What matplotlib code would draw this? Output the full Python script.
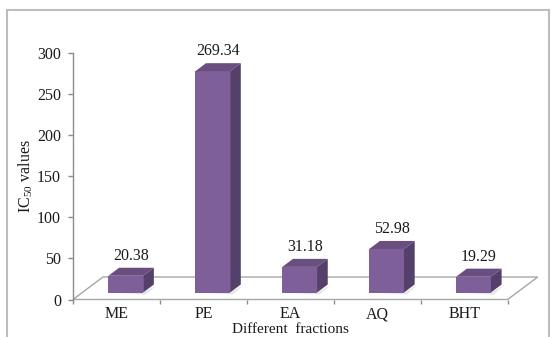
import matplotlib
matplotlib.use("Agg")
import matplotlib.pyplot as plt
from matplotlib.patches import Polygon, Rectangle
import numpy as np

categories = ["ME", "PE", "EA", "AQ", "BHT"]
values = [20.38, 269.34, 31.18, 52.98, 19.29]
value_labels = ["20.38", "269.34", "31.18", "52.98", "19.29"]
y_ticks = [0, 50, 100, 150, 200, 250, 300]
x_label = "Different  fractions"
y_label = r"IC$_{50}$ values"

plt.rcParams['font.family'] = ['Liberation Serif', 'DejaVu Serif']
plt.rcParams['mathtext.fontset'] = 'custom'
plt.rcParams['mathtext.rm'] = 'Liberation Serif'
plt.rcParams['mathtext.it'] = 'Liberation Serif:italic'

W, H = 555, 337
fig = plt.figure(figsize=(W / 100, H / 100), dpi=100)
ax_l, ax_r = 73, 507.7
ax_b, ax_t = 299.5, 53
ax = fig.add_axes([ax_l / W, (H - ax_b) / H, (ax_r - ax_l) / W, (ax_b - ax_t) / H])
ax.set_xlim(-0.5, len(categories) - 0.5)
ax.set_ylim(0, 300)
ax.patch.set_alpha(0)

px_x = (ax_r - ax_l) / len(categories)
px_y = (ax_b - ax_t) / 300
depth_dx = 30 / px_x
depth_dy = 22.5 / px_y

axis_grey = '#8C8C8C'
# floor
floor = Polygon([(-0.5, 0), (len(categories) - 0.5, 0),
                 (len(categories) - 0.5 + depth_dx, depth_dy), (-0.5 + depth_dx, depth_dy)],
                closed=True, fc='white', ec='#A6A6A6', lw=1.0, clip_on=False, zorder=1)
ax.add_patch(floor)

front_c, top_c, side_c = '#7F5F99', '#6A4E80', '#54406A'
half = 0.2
d1, d2 = 0.31, 0.667
ox1, oy1 = d1 * depth_dx, d1 * depth_dy
ox2, oy2 = d2 * depth_dx, d2 * depth_dy
for i, (v, lab) in enumerate(zip(values, value_labels)):
    # soft shadow
    sh = Polygon([(i - half + ox1, oy1), (i + half + ox1, oy1), (i + half + ox2 + 0.03, oy2 - 1),
                  (i + half + ox1 + 0.03, oy1 - 2.5)], closed=True, fc='#E6E6E6', ec='none',
                 clip_on=False, zorder=2)
    ax.add_patch(sh)
    front = Polygon([(i - half + ox1, oy1), (i + half + ox1, oy1), (i + half + ox1, oy1 + v),
                     (i - half + ox1, oy1 + v)], closed=True, fc=front_c, ec='none', clip_on=False, zorder=4)
    top = Polygon([(i - half + ox1, oy1 + v), (i + half + ox1, oy1 + v), (i + half + ox2, oy2 + v),
                   (i - half + ox2, oy2 + v)], closed=True, fc=top_c, ec='none', clip_on=False, zorder=4)
    side = Polygon([(i + half + ox1, oy1), (i + half + ox2, oy2), (i + half + ox2, oy2 + v),
                    (i + half + ox1, oy1 + v)], closed=True, fc=side_c, ec='none', clip_on=False, zorder=4)
    for p in (front, top, side):
        ax.add_patch(p)
    ax.text(i + (d1 + d2) / 2 * depth_dx, oy2 + v + 12 / px_y, lab, ha='center', va='center',
            fontsize=11.5, color='#1A1A1A', zorder=5, clip_on=False)

for s in ['top', 'right', 'bottom']:
    ax.spines[s].set_visible(False)
ax.spines['left'].set_color(axis_grey)
ax.spines['left'].set_linewidth(1.0)

ax.set_yticks(y_ticks)
ax.set_yticklabels([str(t) for t in y_ticks])
ax.tick_params(axis='y', direction='out', length=3.6, width=1.0, color=axis_grey,
               labelsize=11.5, labelcolor='#1A1A1A', pad=5)
ax.set_xticks(range(len(categories)))
ax.set_xticklabels(categories)
ax.set_xticks(np.arange(-0.5, len(categories)), minor=True)
ax.tick_params(axis='x', which='major', length=0, labelsize=11.5, labelcolor='#1A1A1A', pad=5)
ax.tick_params(axis='x', which='minor', direction='out', length=3, width=1.0, color=axis_grey)

ax.set_xlabel(x_label, fontsize=11, color='#1A1A1A', labelpad=0.2)
ax.set_ylabel(y_label, fontsize=11.5, color='#1A1A1A')
ax.yaxis.set_label_coords(-0.087, 0.5)

fig.add_artist(Rectangle((7 / W, -0.05), (549 - 7) / W, (H - 10) / H + 0.05,
                         transform=fig.transFigure, fill=False, ec='#BDBDBD', lw=1.5))

fig.savefig('out.png', dpi=100)
